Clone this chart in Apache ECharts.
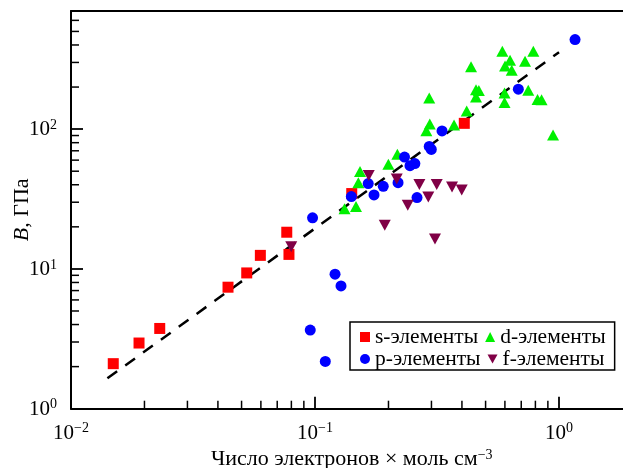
<!DOCTYPE html>
<html>
<head>
<meta charset="utf-8">
<script src="https://cdn.jsdelivr.net/npm/echarts@6/dist/echarts.min.js"></script>
<style>html,body{margin:0;padding:0;background:#fff}#c{width:623px;height:468px}</style>
</head>
<body>
<div id="c"></div>
<script>
// ---- data (x: electrons × mol cm^-3, y: B, GPa) ----
var sData = [[0.0149,2.10],[0.0190,2.95],[0.0231,3.75],[0.0440,7.4],[0.0525,9.36],[0.0597,12.5],[0.0766,18.3],[0.0782,12.7],[0.1414,34.6],[0.409,110]];
var pData = [[0.0977,23.2],[0.1208,9.17],[0.1278,7.56],[0.0956,3.65],[0.1102,2.18],[0.1409,32.9],[0.1652,40.8],[0.1745,33.8],[0.1904,39.0],[0.2189,41.4],[0.2618,32.4],[0.2327,63.1],[0.2450,54.8],[0.2565,56.7],[0.2938,75.2],[0.2996,71.6],[0.3315,97.1],[0.681,193],[1.163,437]];
var dData = [[0.5856,361],[0.7846,361],[0.6298,311],[0.7256,306],[0.6008,283],[0.6399,264],[0.4359,280],[0.4568,191],[0.4692,189],[0.4568,170],[0.5979,181],[0.5979,155],[0.7479,190],[0.8164,163],[0.848,162],[0.945,90.6],[0.4184,135],[0.3713,107],[0.2938,167],[0.2953,109],[0.2859,97.4],[0.2175,66.2],[0.1998,56.0],[0.1529,49.7],[0.1505,41.3],[0.1321,26.9],[0.1472,28.0]];
var fData = [[0.0799,14.4],[0.166,46.5],[0.2162,44.0],[0.2677,40.1],[0.3153,40.1],[0.3643,38.5],[0.3992,36.7],[0.2912,32.7],[0.2399,28.5],[0.1931,20.5],[0.3102,16.4]];
var fitLine = [[0.0141,1.65],[1.0,355]];
var seriesNames = ['s-элементы','d-элементы','p-элементы','f-элементы'];
var xMinorTicks = [0.02,0.03,0.04,0.05,0.06,0.07,0.08,0.09,0.2,0.3,0.4,0.5,0.6,0.7,0.8,0.9];
var yMinorTicks = [2,3,4,5,6,7,8,9,20,30,40,50,60,70,80,90,200,300,400,500,600];
var xMin = 0.01, xMax = 2, yMin = 1, yMax = 700;

var FONT = 'Liberation Serif';
var downTri = 'path://M0,0 L12,0 L6,11 Z';

function powLabel(v) {
  var e = Math.log10(v);
  var r = Math.round(e);
  if (Math.abs(e - r) > 1e-6) return '';
  return '{b|10}{s|' + String(r).replace('-', '\u2212') + '}';
}
var labelRich = {
  b: {fontSize: 21, fontFamily: FONT, color: '#000', lineHeight: 22, verticalAlign: 'bottom'},
  s: {fontSize: 14, fontFamily: FONT, color: '#000', lineHeight: 13, verticalAlign: 'top'}
};

var tickData = xMinorTicks.map(function (v) { return [v, yMin, 0]; })
  .concat(yMinorTicks.map(function (v) { return [xMin, v, 1]; }));

var chart = echarts.init(document.getElementById('c'), null, {renderer: 'canvas'});
chart.setOption({
  animation: false,
  backgroundColor: '#fff',
  grid: {left: 71, top: 11, width: 561.5, height: 397.7, show: false, containLabel: false, outerBoundsMode: 'none'},
  xAxis: [{
    type: 'log', logBase: 10, min: xMin, max: xMax, position: 'bottom',
    axisLine: {show: true, onZero: false, lineStyle: {color: '#000', width: 2}},
    axisTick: {show: true, inside: true, length: 12, lineStyle: {color: '#000', width: 1.8}},
    splitLine: {show: false}, minorTick: {show: false},
    axisLabel: {formatter: powLabel, margin: 13, rich: labelRich, showMinLabel: true, showMaxLabel: true, hideOverlap: false},
    name: 'Число электронов × моль см{s|\u22123}',
    nameLocation: 'middle', nameGap: 40, nameMoveOverlap: false,
    nameTextStyle: {fontSize: 22, fontFamily: FONT, color: '#000', rich: {s: {fontSize: 14, fontFamily: FONT, color: '#000', lineHeight: 13, verticalAlign: 'top'}}}
  }, {
    type: 'log', logBase: 10, min: xMin, max: xMax, position: 'top',
    axisLine: {show: true, onZero: false, lineStyle: {color: '#000', width: 2}},
    axisTick: {show: false}, axisLabel: {show: false}, splitLine: {show: false}
  }],
  yAxis: {
    type: 'log', logBase: 10, min: yMin, max: yMax,
    axisLine: {show: true, onZero: false, lineStyle: {color: '#000', width: 2}},
    axisTick: {show: true, inside: true, length: 12, lineStyle: {color: '#000', width: 1.8}},
    splitLine: {show: false}, minorTick: {show: false},
    axisLabel: {formatter: powLabel, margin: 14, rich: labelRich, showMinLabel: true, showMaxLabel: true, hideOverlap: false},
    name: '{i|B}, ГПа', nameLocation: 'middle', nameGap: 38, nameMoveOverlap: false,
    nameTextStyle: {fontSize: 22, fontFamily: FONT, color: '#000', rich: {i: {fontSize: 22, fontFamily: FONT, fontStyle: 'italic', color: '#000'}}}
  },
  legend: {
    data: [
      {name: seriesNames[0], icon: 'rect'},
      {name: seriesNames[1], icon: 'triangle'},
      {name: seriesNames[2], icon: 'circle'},
      {name: seriesNames[3], icon: downTri}
    ],
    left: 350, top: 322, width: 266, orient: 'horizontal',
    itemWidth: 10, itemHeight: 10, itemGap: 0,
    padding: [4, 2, 0, 10],
    borderColor: '#000', borderWidth: 1.5, backgroundColor: '#fff',
    selectedMode: false,
    textStyle: {fontSize: 21.5, fontFamily: FONT, color: '#000', lineHeight: 20, padding: [0, 7, 0, 0]}
  },
  series: [
    {type: 'line', data: fitLine, symbol: 'none', silent: true, z: 1,
     lineStyle: {color: '#000', width: 2.5, type: [12, 10]}},
    {name: seriesNames[0], type: 'scatter', data: sData, symbol: 'rect', symbolSize: 11,
     itemStyle: {color: '#ff0000', opacity: 1}, z: 2},
    {name: seriesNames[1], type: 'scatter', data: dData, symbol: 'triangle', symbolSize: [12, 11],
     itemStyle: {color: '#00f000', opacity: 1}, z: 3},
    {name: seriesNames[2], type: 'scatter', data: pData, symbol: 'circle', symbolSize: 11,
     itemStyle: {color: '#0000ff', opacity: 1}, z: 4},
    {name: seriesNames[3], type: 'scatter', data: fData, symbol: downTri, symbolSize: [12, 11],
     itemStyle: {color: '#800046', opacity: 1}, z: 5},
    {type: 'custom', data: tickData, silent: true, clip: false, z: 6,
     encode: {x: 0, y: 1},
     renderItem: function (params, api) {
       var p = api.coord([api.value(0), api.value(1)]);
       var isY = api.value(2) === 1;
       var len = 8;
       return {
         type: 'line',
         shape: isY ? {x1: p[0], y1: p[1], x2: p[0] + len, y2: p[1]} : {x1: p[0], y1: p[1], x2: p[0], y2: p[1] - len},
         style: {stroke: '#000', lineWidth: 1.5}
       };
     }}
  ]
});
</script>
</body>
</html>
